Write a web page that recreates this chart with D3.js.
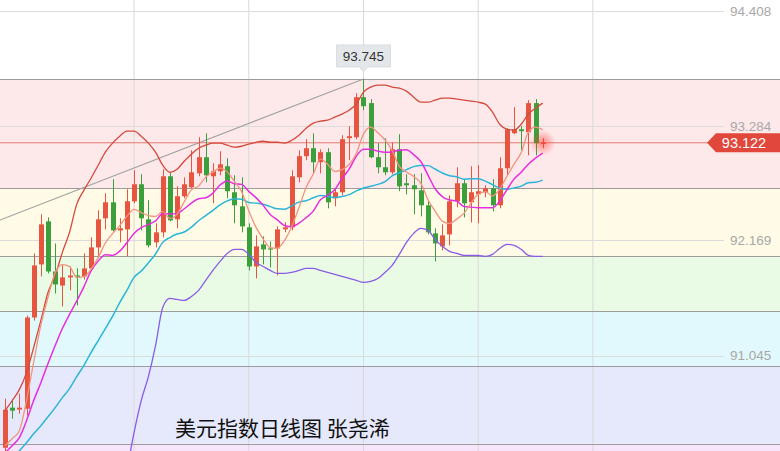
<!DOCTYPE html>
<html><head><meta charset="utf-8">
<script src="https://cdn.jsdelivr.net/npm/d3@7"></script>
<style>html,body{margin:0;padding:0;background:#fff;overflow:hidden}svg{display:block}</style>
</head><body><svg id="c" width="780" height="451"></svg>
<script>
// ---- data ----
const opens=[90.146,90.537,90.518,90.527,91.417,91.935,92.355,91.866,91.729,91.808,91.827,91.818,91.896,92.101,92.385,92.541,92.267,92.277,92.551,92.717,92.375,92.150,92.248,92.795,92.375,92.600,92.688,92.824,92.981,92.795,92.844,92.893,92.639,92.502,92.297,91.915,92.130,92.091,92.091,92.277,92.297,92.785,92.991,93.069,92.932,93.030,92.580,92.639,93.167,93.176,93.567,93.509,92.981,92.883,92.834,93.059,92.727,92.707,92.658,92.512,92.238,92.111,92.228,92.551,92.727,92.541,92.619,92.639,92.678,92.512,92.873,93.215,93.254,93.225,93.509,93.113];
const highs=[90.625,90.615,90.674,91.436,92.042,92.424,92.394,92.140,91.925,91.915,91.896,92.042,92.199,92.463,92.629,92.766,92.385,92.668,92.854,92.815,92.561,92.336,92.864,92.834,92.697,92.785,93.049,93.176,93.215,92.922,93.039,92.971,92.805,92.785,92.336,92.218,92.209,92.160,92.306,92.346,92.854,93.049,93.157,93.215,93.059,93.069,92.678,93.196,93.284,93.606,93.745,93.548,93.118,93.167,93.127,93.206,92.815,92.815,92.824,92.561,92.287,92.326,92.609,92.883,92.766,92.893,92.903,92.707,92.766,92.981,93.264,93.470,93.284,93.538,93.548,93.167];
const lows=[90.087,90.430,90.478,90.459,91.387,91.818,91.847,91.651,91.524,91.681,91.534,91.788,91.876,92.003,92.277,92.257,92.150,92.013,92.531,92.267,92.101,92.101,92.199,92.355,92.287,92.580,92.678,92.795,92.736,92.531,92.805,92.580,92.336,92.248,91.876,91.798,91.935,91.906,91.827,92.248,92.267,92.736,92.952,92.824,92.824,92.482,92.502,92.609,92.952,93.157,93.440,92.971,92.824,92.805,92.815,92.649,92.619,92.424,92.404,92.228,91.964,92.072,92.121,92.492,92.394,92.345,92.336,92.590,92.453,92.482,92.805,93.206,93.049,92.999,92.999,93.069];
const closes=[90.518,90.508,90.537,91.417,91.925,92.326,91.866,91.739,91.808,91.827,91.808,91.896,92.101,92.375,92.541,92.267,92.287,92.551,92.717,92.385,92.121,92.248,92.795,92.365,92.600,92.717,92.834,92.981,92.805,92.844,92.912,92.649,92.512,92.306,91.915,92.111,92.081,92.081,92.277,92.297,92.795,92.991,93.069,92.932,93.030,92.541,92.639,93.157,93.186,93.567,93.479,92.981,92.883,92.834,93.059,92.697,92.707,92.668,92.512,92.248,92.140,92.218,92.551,92.727,92.531,92.639,92.649,92.678,92.512,92.873,93.254,93.254,93.235,93.509,93.118,93.122];

const ma5=[90.166,90.234,90.312,90.606,90.981,91.343,91.614,91.855,91.933,91.913,91.810,91.816,91.888,92.001,92.144,92.236,92.314,92.404,92.473,92.441,92.412,92.404,92.453,92.383,92.426,92.545,92.662,92.699,92.787,92.836,92.875,92.838,92.744,92.645,92.459,92.299,92.185,92.099,92.093,92.170,92.306,92.488,92.686,92.817,92.963,92.912,92.842,92.860,92.910,93.018,93.206,93.274,93.219,93.149,93.047,92.891,92.836,92.793,92.729,92.566,92.455,92.357,92.334,92.377,92.433,92.533,92.619,92.645,92.602,92.670,92.793,92.914,93.026,93.225,93.274,93.248];
const ma10=[90.097,90.166,90.244,90.410,90.606,90.781,90.967,91.143,91.309,91.447,91.576,91.715,91.871,91.967,92.029,92.023,92.065,92.146,92.237,92.293,92.324,92.359,92.429,92.428,92.433,92.478,92.533,92.576,92.585,92.631,92.710,92.750,92.722,92.716,92.648,92.587,92.512,92.422,92.369,92.314,92.302,92.337,92.392,92.455,92.566,92.609,92.665,92.773,92.864,92.991,93.059,93.058,93.040,93.030,93.033,93.048,93.055,93.006,92.939,92.807,92.673,92.597,92.563,92.553,92.500,92.494,92.488,92.489,92.489,92.552,92.663,92.767,92.835,92.913,92.972,93.020];
const ma20=[90.039,90.068,90.117,90.195,90.283,90.361,90.449,90.537,90.635,90.723,90.840,90.948,91.075,91.192,91.309,91.427,91.563,91.681,91.808,91.870,91.950,92.037,92.150,92.197,92.231,92.251,92.299,92.361,92.411,92.462,92.517,92.555,92.575,92.572,92.540,92.533,92.522,92.499,92.477,92.473,92.506,92.543,92.557,92.585,92.607,92.598,92.588,92.597,92.616,92.652,92.681,92.697,92.716,92.742,92.800,92.829,92.860,92.889,92.901,92.899,92.866,92.827,92.801,92.791,92.766,92.771,92.772,92.748,92.714,92.679,92.668,92.682,92.699,92.733,92.736,92.757];
const bollUpper=[90.508,90.606,90.713,90.879,91.124,91.388,91.661,91.827,92.052,92.248,92.521,92.658,92.776,92.903,93.030,93.118,93.186,93.235,93.235,93.186,93.118,93.030,92.903,92.834,92.864,92.942,93.010,93.069,93.098,93.118,93.118,93.098,93.079,93.088,93.108,93.127,93.137,93.127,93.127,93.118,93.147,93.196,93.264,93.313,93.333,93.343,93.372,93.401,93.440,93.499,93.616,93.665,93.685,93.685,93.665,93.655,93.626,93.567,93.518,93.518,93.538,93.558,93.558,93.548,93.538,93.528,93.518,93.499,93.421,93.303,93.255,93.245,93.303,93.401,93.460,93.509];
const bollLower=[null,null,null,null,null,null,null,null,null,null,null,null,null,null,null,null,null,89.921,90.293,90.606,90.840,91.143,91.515,91.603,91.593,91.583,91.622,91.681,91.779,91.876,91.964,92.042,92.082,92.082,92.033,91.954,91.915,91.876,91.847,91.847,91.857,91.876,91.896,91.896,91.876,91.857,91.837,91.818,91.798,91.779,91.759,91.769,91.798,91.857,91.925,92.033,92.150,92.238,92.287,92.267,92.179,92.111,92.062,92.042,92.023,92.023,92.023,92.013,92.033,92.091,92.130,92.121,92.082,92.023,92.013,92.013];

const tickValues=[94.408,93.284,92.169,91.045];
const fibHigh=93.745, fibLow=89.215;
const fibRatios=[0,0.236,0.382,0.5,0.618,0.786,1];
const bandColors=["#fde9ea","#fffbe6","#e9fbe5","#e1f9fc","#e6e9fb","#f6e5fb"];
const highLabel=93.745, lastPrice=93.122;
const title="美元指数日线图 张尧浠";

// ---- drawing ----
const W=780,H=451;
const svg=d3.select('#c');
const n=closes.length;
const y=d3.scaleLinear().domain([91.045,94.408]).range([355.6,11]);
const x=d3.scaleLinear().domain([0,n-1]).range([5,542.7]);
const bodyW=5;

// fib bands
const fibVals=fibRatios.map(r=>fibHigh-(fibHigh-fibLow)*r);
const bands=d3.pairs(fibVals);
svg.append('g').selectAll('rect').data(bands).join('rect')
  .attr('x',0).attr('width',W)
  .attr('y',d=>y(d[0])).attr('height',d=>Math.max(0,Math.min(H,y(d[1]))-y(d[0])))
  .attr('fill',(d,i)=>bandColors[i]);

// vertical grid
const vIdx=[18,34,50,66,82];
svg.append('g').selectAll('line').data(vIdx).join('line')
  .attr('x1',d=>x(d)).attr('x2',d=>x(d)).attr('y1',0).attr('y2',H)
  .attr('stroke','#d9d9d9').attr('stroke-width',1);

// horizontal grid at ticks
svg.append('g').selectAll('line').data(tickValues).join('line')
  .attr('x1',0).attr('x2',724).attr('y1',d=>Math.round(y(d))+0.5).attr('y2',d=>Math.round(y(d))+0.5)
  .attr('stroke','#dcdcdc').attr('stroke-width',1);

// fib lines
svg.append('g').selectAll('line').data(fibVals.slice(0,6)).join('line')
  .attr('x1',0).attr('x2',W).attr('y1',d=>Math.round(y(d))+0.5).attr('y2',d=>Math.round(y(d))+0.5)
  .attr('stroke','#9c9c9c').attr('stroke-width',1.2);

// trend line from left to high
svg.append('line')
  .attr('x1',0).attr('y1',220).attr('x2',x(50)).attr('y2',y(highLabel))
  .attr('stroke','#a0a0a0').attr('stroke-width',1.1);

// last price line
svg.append('line').attr('x1',0).attr('x2',708)
  .attr('y1',y(lastPrice)).attr('y2',y(lastPrice))
  .attr('stroke','#e27a72').attr('stroke-width',1);

// candles
const UP='#e5553f', DN='#3b9f3b';
const cg=svg.append('g');
const idx=d3.range(n);
cg.selectAll('line').data(idx).join('line')
  .attr('x1',i=>Math.round(x(i))+0.5).attr('x2',i=>Math.round(x(i))+0.5)
  .attr('y1',i=>y(highs[i])).attr('y2',i=>y(lows[i]))
  .attr('stroke',i=>closes[i]>=opens[i]?UP:DN).attr('stroke-width',1);
cg.selectAll('rect').data(idx).join('rect')
  .attr('x',i=>Math.round(x(i))+0.5-bodyW/2).attr('width',bodyW)
  .attr('y',i=>y(Math.max(opens[i],closes[i])))
  .attr('height',i=>Math.max(1.2,Math.abs(y(opens[i])-y(closes[i]))))
  .attr('fill',i=>closes[i]>=opens[i]?UP:DN);

// indicator lines
const series=[
  {v:bollLower,c:'#8a5ce6',w:1.3},
  {v:bollUpper,c:'#d5493c',w:1.3},
  {v:ma20,c:'#2bb5d8',w:1.5},
  {v:ma10,c:'#e42ee0',w:1.5},
  {v:ma5,c:'#f2937f',w:1.3}
];
const line=d3.line().defined(d=>d[1]!=null).x(d=>x(d[0])).y(d=>y(d[1])).curve(d3.curveMonotoneX);
svg.append('g').selectAll('path').data(series).join('path')
  .attr('d',s=>line(s.v.map((v,i)=>[i,v])))
  .attr('fill','none').attr('stroke',s=>s.c).attr('stroke-width',s=>s.w);

// glow on last candle
const defs=svg.append('defs');
const rg=defs.append('radialGradient').attr('id','glow');
rg.append('stop').attr('offset','0%').attr('stop-color','#ff3b30').attr('stop-opacity',0.55);
rg.append('stop').attr('offset','100%').attr('stop-color','#ff3b30').attr('stop-opacity',0);
svg.append('circle').attr('cx',x(n-1)).attr('cy',y(lastPrice)).attr('r',13).attr('fill','url(#glow)');

// right axis
const ax=svg.append('g').attr('transform','translate(727,0)')
  .call(d3.axisRight(y).tickValues(tickValues).tickSize(0).tickPadding(3).tickFormat(d3.format('.3f')));
ax.select('.domain').remove();
ax.selectAll('text').attr('fill','#a8a8a8').attr('font-size','13.5px')
  .attr('font-family','Liberation Sans, Arial, sans-serif');

// last price tag
const ty=y(lastPrice);
svg.append('path')
  .attr('d',`M707,${ty} L716,${ty-9.5} L780,${ty-9.5} L780,${ty+9.5} L716,${ty+9.5} Z`)
  .attr('fill','#e1473a');
svg.append('text').attr('x',744).attr('y',ty+5).attr('text-anchor','middle')
  .attr('fill','#fff').attr('font-size','14.5px').attr('font-family','Liberation Sans, Arial, sans-serif')
  .text(d3.format('.3f')(lastPrice));

// high label
const hx=x(50), hy=y(highLabel);
svg.append('path')
  .attr('d',`M${hx-27},${hy-34} L${hx+27},${hy-34} L${hx+27},${hy-12} L${hx+4},${hy-12} L${hx},${hy-7} L${hx-4},${hy-12} L${hx-27},${hy-12} Z`)
  .attr('fill','#e4e7ea').attr('stroke','#d4d7da').attr('stroke-width',0.8);
svg.append('text').attr('x',hx).attr('y',hy-18).attr('text-anchor','middle')
  .attr('fill','#333').attr('font-size','13.5px').attr('font-family','Liberation Sans, Arial, sans-serif')
  .text(d3.format('.3f')(highLabel));

// title
svg.append('text').attr('x',175).attr('y',436)
  .attr('font-family','Noto Sans CJK SC, sans-serif').attr('font-size','21px').attr('fill','#111')
  .text(title);
</script>
</body></html>
